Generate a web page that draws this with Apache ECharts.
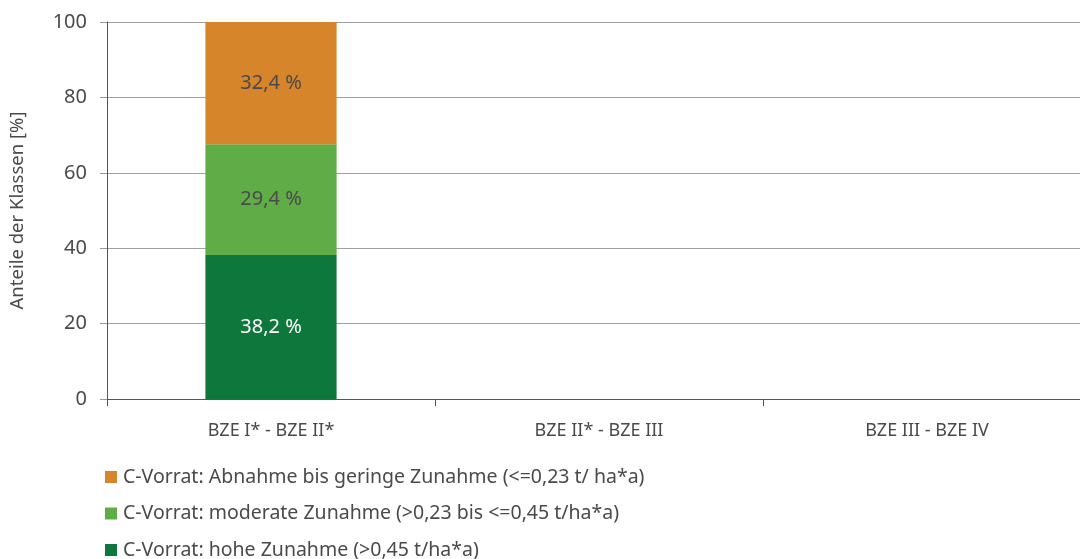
<!DOCTYPE html>
<html>
<head>
<meta charset="utf-8">
<script src="https://cdn.jsdelivr.net/npm/echarts@6/dist/echarts.min.js"></script>
<style>
  html, body { margin: 0; padding: 0; background: #fff; overflow: hidden; }
  /* the plot area runs a little past the right edge of the page */
  #chart { width: 1091px; height: 559px; }
</style>
</head>
<body>
<div id="chart"></div>
<script>
// Periods compared
const categories = ['BZE I* - BZE II*', 'BZE II* - BZE III', 'BZE III - BZE IV'];

// Class shares in percent per period (stacked bottom to top)
const hoheZunahme = [38.2, null, null];
const moderateZunahme = [29.4, null, null];
const abnahmeGering = [32.4, null, null];

const seriesNames = [
  'C-Vorrat: hohe Zunahme (>0,45 t/ha*a)',
  'C-Vorrat: moderate Zunahme (>0,23 bis <=0,45 t/ha*a)',
  'C-Vorrat: Abnahme bis geringe Zunahme (<=0,23 t/ ha*a)'
];

const yTicks = { min: 0, max: 100, interval: 20 };

const FONT = '"Noto Sans", sans-serif';
const TEXT = '#4a4a4a';

function pct(p) {
  return String(p.value.toFixed(1)).replace('.', ',') + ' %';
}

function barSeries(name, data, color, labelColor) {
  return {
    name: name,
    type: 'bar',
    stack: 'total',
    data: data,
    barWidth: '40%',
    itemStyle: { color: color },
    label: {
      show: true,
      position: 'inside',
      formatter: pct,
      color: labelColor,
      fontFamily: FONT,
      fontSize: 20
    }
  };
}

const chart = echarts.init(document.getElementById('chart'), null, { renderer: 'canvas' });
chart.setOption({
  animation: false,
  textStyle: { fontFamily: FONT },
  grid: { left: 107, right: 0, top: 22, bottom: 160, containLabel: false },
  legend: {
    orient: 'vertical',
    left: 105,
    top: 467,
    height: 140,
    padding: 0,
    itemWidth: 12,
    itemHeight: 12,
    itemGap: 16.5,
    icon: 'rect',
    data: [seriesNames[2], seriesNames[1], seriesNames[0]],
    textStyle: { color: TEXT, fontSize: 19.5, fontFamily: FONT, padding: [0, 0, 0, 1], lineHeight: 18 }
  },
  xAxis: {
    type: 'category',
    data: categories,
    axisLine: { show: true, lineStyle: { color: '#555', width: 1 } },
    axisTick: { show: true, length: 7, lineStyle: { color: '#555' } },
    axisLabel: { color: TEXT, fontSize: 18, margin: 23, fontFamily: FONT }
  },
  yAxis: {
    type: 'value',
    min: yTicks.min,
    max: yTicks.max,
    interval: yTicks.interval,
    name: 'Anteile der Klassen [%]',
    nameLocation: 'middle',
    nameGap: 80,
    nameTextStyle: { color: TEXT, fontSize: 18.5, fontFamily: FONT },
    axisLine: { show: true, lineStyle: { color: '#555', width: 1 } },
    axisTick: { show: true, length: 7, lineStyle: { color: '#999' } },
    axisLabel: { color: TEXT, fontSize: 20, margin: 20, fontFamily: FONT },
    splitLine: { show: true, lineStyle: { color: '#a0a0a0', width: 1 } }
  },
  series: [
    barSeries(seriesNames[0], hoheZunahme, '#0e773c', '#ffffff'),
    barSeries(seriesNames[1], moderateZunahme, '#60ad47', '#4a4a4a'),
    barSeries(seriesNames[2], abnahmeGering, '#d6852a', '#4a4a4a')
  ]
});
</script>
</body>
</html>
